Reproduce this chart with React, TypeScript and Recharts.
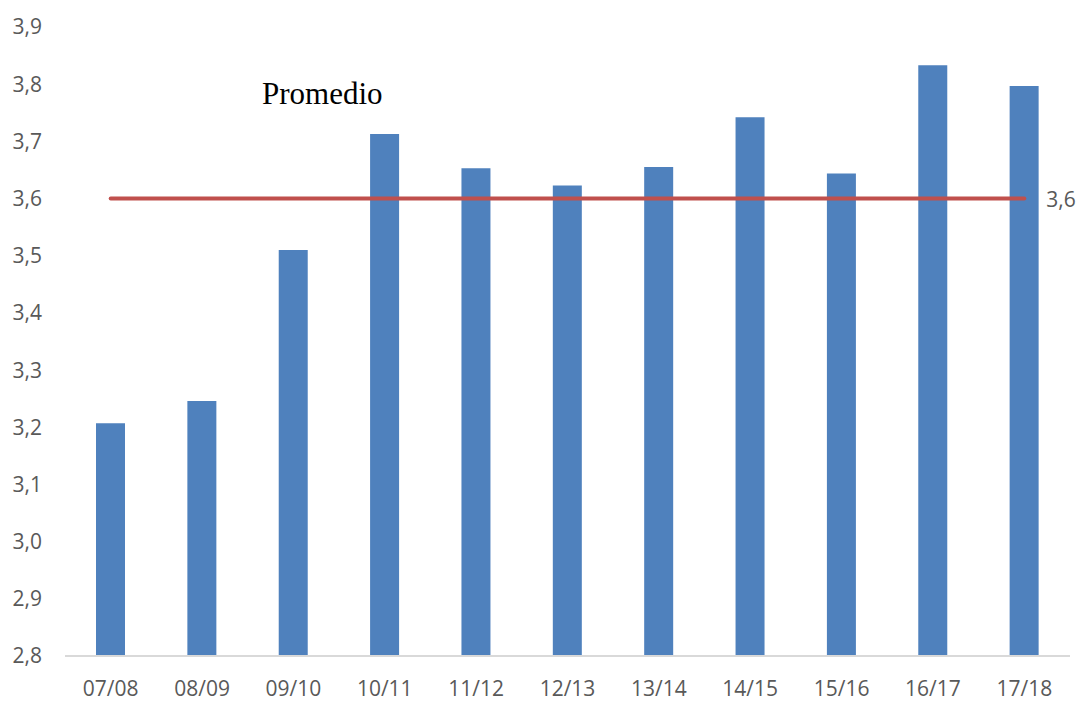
import React from "react";
import { ComposedChart, Bar, Line, XAxis, YAxis, LabelList } from "recharts";

const categories = ["07/08", "08/09", "09/10", "10/11", "11/12", "12/13", "13/14", "14/15", "15/16", "16/17", "17/18"];
const values = [3.207, 3.246, 3.51, 3.713, 3.653, 3.623, 3.655, 3.742, 3.644, 3.833, 3.797];
const average = 3.6;
const yTicks = [2.8, 2.9, 3.0, 3.1, 3.2, 3.3, 3.4, 3.5, 3.6, 3.7, 3.8, 3.9];
const averageLabel = "Promedio";

const data = categories.map((c, i) => ({ name: c, value: values[i], avg: average }));

const fmt = (v: number) => v.toFixed(1).replace(".", ",");

const AvgLabel = (props: any) => {
  const { x, y, index, value } = props;
  if (index !== categories.length - 1) return null;
  return (
    <text x={x + 22} y={y} dy={8} fill="#595959" fontSize={21} fontFamily="'Open Sans', sans-serif" textAnchor="start">
      {fmt(value)}
    </text>
  );
};

export default function App() {
  return (
    <div style={{ position: "absolute", left: 0, top: 0, width: 1080, height: 706, background: "#fff" }}>
      <ComposedChart width={1080} height={706} data={data} margin={{ top: 27, right: 10, bottom: 0, left: 0 }}>
        <XAxis
          dataKey="name"
          height={50}
          axisLine={{ stroke: "#D9D9D9", strokeWidth: 2 }}
          tickLine={false}
          tickSize={0}
          tickMargin={25}
          tick={{ fill: "#595959", fontSize: 21, fontFamily: "'Open Sans', sans-serif" }}
        />
        <YAxis
          domain={[2.8, 3.9]}
          ticks={yTicks}
          width={65}
          axisLine={false}
          tickLine={false}
          tickSize={0}
          tickMargin={23}
          tickFormatter={fmt}
          tick={{ fill: "#595959", fontSize: 21, fontFamily: "'Open Sans', sans-serif" }}
          allowDataOverflow
        />
        <Bar dataKey="value" fill="#4F81BD" barSize={29} isAnimationActive={false} />
        <Line
          dataKey="avg"
          stroke="#C0504D"
          strokeWidth={4}
          dot={false}
          strokeLinecap="round"
          isAnimationActive={false}
        >
          <LabelList dataKey="avg" content={<AvgLabel />} />
        </Line>
      </ComposedChart>
      <div
        style={{
          position: "absolute",
          left: 262,
          top: 76,
          fontFamily: "'Liberation Serif', 'Times New Roman', serif",
          fontSize: 31,
          color: "#000",
          lineHeight: "36px",
        }}
      >
        {averageLabel}
      </div>
    </div>
  );
}
